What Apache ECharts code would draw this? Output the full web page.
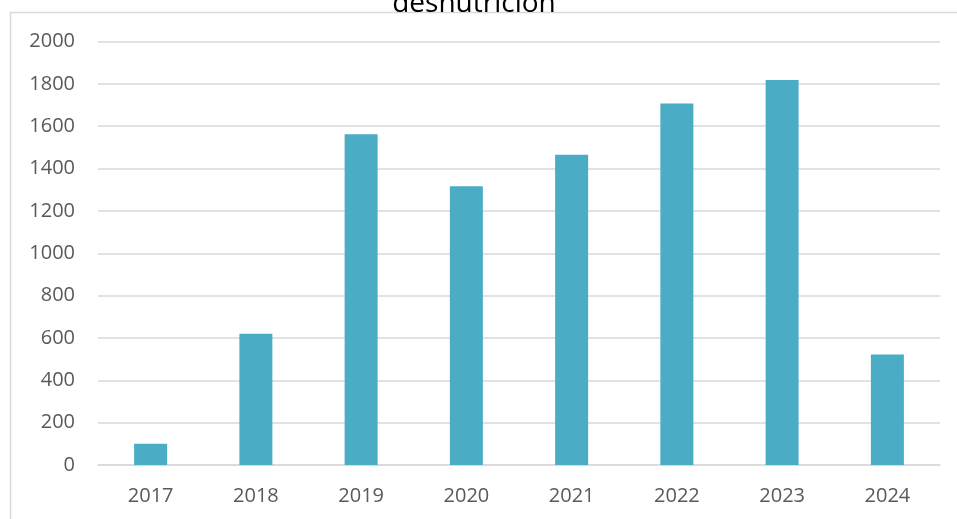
<!DOCTYPE html>
<html>
<head>
<meta charset="utf-8">
<script src="https://cdn.jsdelivr.net/npm/echarts@6/dist/echarts.min.js"></script>
<style>
  html, body { margin: 0; padding: 0; background: #fff; }
  #chart { width: 957px; height: 519px; }
</style>
</head>
<body>
<div id="chart"></div>
<script>
// Yearly cases of malnutrition
const titleText = 'desnutrición';
const years = ['2017', '2018', '2019', '2020', '2021', '2022', '2023', '2024'];
const cases = [100, 620, 1562, 1317, 1465, 1707, 1818, 522];
const yTicks = { min: 0, max: 2000, interval: 200 };

const textColor = '#595959';
const gridColor = '#d9d9d9';
const font = 'Open Sans';

const chart = echarts.init(document.getElementById('chart'), null, { renderer: 'canvas' });
chart.setOption({
  backgroundColor: '#ffffff',
  animation: false,
  title: {
    text: titleText,
    left: 469,
    top: -15,
    textAlign: 'center',
    textStyle: { fontFamily: font, fontSize: 28, fontWeight: 'normal', color: '#000000' }
  },
  graphic: [{
    type: 'rect',
    shape: { x: 10.5, y: 12.5, width: 980, height: 540 },
    style: { fill: null, stroke: gridColor, lineWidth: 1.5 },
    silent: true,
    z: -1
  }],
  grid: { left: 98, right: 17, top: 41.5, bottom: 54, containLabel: false },
  xAxis: {
    type: 'category',
    data: years,
    axisLine: { show: true, lineStyle: { color: gridColor, width: 1.5 } },
    axisTick: { show: false },
    axisLabel: { color: textColor, fontFamily: font, fontSize: 20, margin: 21 }
  },
  yAxis: {
    type: 'value',
    min: yTicks.min,
    max: yTicks.max,
    interval: yTicks.interval,
    axisLine: { show: false },
    axisTick: { show: false },
    splitLine: { lineStyle: { color: gridColor, width: 1.5 } },
    axisLabel: {
      color: textColor, fontFamily: font, fontSize: 20, margin: 23,
      formatter: (v) => String(v)
    }
  },
  series: [{
    type: 'bar',
    data: cases,
    barWidth: 33,
    itemStyle: { color: '#4BACC6' }
  }]
});
</script>
</body>
</html>
